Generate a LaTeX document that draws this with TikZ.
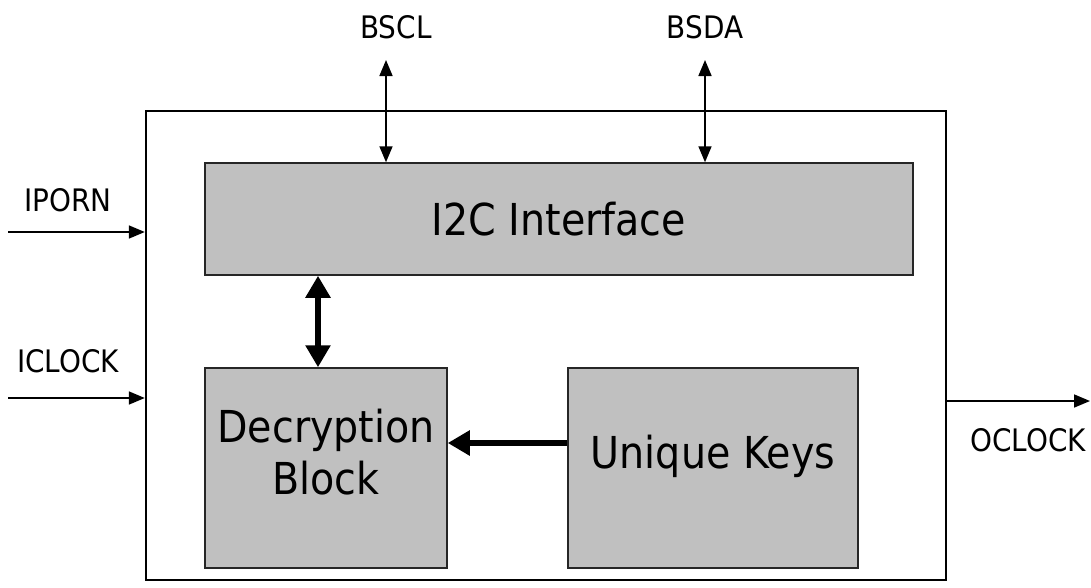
\documentclass[tikz,border=0pt]{standalone}
\usepackage{fontspec}
\setmainfont{DejaVu Sans Condensed}
\usetikzlibrary{arrows.meta}
\definecolor{boxgray}{HTML}{C0C0C0}
\begin{document}
\begin{tikzpicture}[x=1pt,y=-1pt,
  outerbox/.style={draw=black,line width=2.4pt,minimum width=800pt,minimum height=469pt,inner sep=0pt},
  graybox/.style={draw=black!85,fill=boxgray,line width=1.5pt,inner sep=0pt,align=center,font=\fontsize{44}{52}\selectfont},
  sig/.style={font=\fontsize{31}{36}\selectfont,inner sep=0pt},
  thin/.style={line width=1.7pt,-{Triangle[length=16pt,width=13pt]}},
  thinboth/.style={line width=1.7pt,{Triangle[length=16pt,width=13pt]}-{Triangle[length=16pt,width=13pt]}},
  thick/.style={line width=6pt,-{Triangle[length=22pt,width=24pt]}},
  thickboth/.style={line width=6pt,{Triangle[length=22pt,width=24pt]}-{Triangle[length=22pt,width=24pt]}}
]
\useasboundingbox (0,0) rectangle (1091,587);
\node[outerbox] (outer) at (546,345.5) {};
\node[graybox,minimum width=708pt,minimum height=112pt] (i2c) at (559,219) {I2C Interface};
\node[graybox,minimum width=242pt,minimum height=200pt] (dec) at (326,468) {};
\node[graybox,minimum width=290pt,minimum height=200pt] (keys) at (713,468) {};
\node[font=\fontsize{44}{52}\selectfont,align=center,inner sep=0pt] (dect) at ([yshift=16pt]dec.center) {Decryption\\Block};
\node[font=\fontsize{44}{52}\selectfont,inner sep=0pt] (keyst) at ([yshift=12pt]keys.center) {Unique Keys};

\node[sig] (bscl) at (396,27) {BSCL};
\node[sig] (bsda) at (705,27) {BSDA};
\node[sig] (iporn) at (68,200) {IPORN};
\node[sig] (iclock) at (68,361) {ICLOCK};
\node[sig] (oclock) at (1028,440) {OCLOCK};

\coordinate (bsclTop) at (386,60);
\coordinate (bsdaTop) at (705,60);
\coordinate (ipornIn) at (8,232);
\coordinate (iclockIn) at (8,398);
\coordinate (oclockOut) at (1090,401);
\coordinate (decTop) at (318,368);

\draw[thinboth] (bsclTop) -- (bsclTop |- i2c.north);
\draw[thinboth] (bsdaTop) -- (bsdaTop |- i2c.north);
\draw[thin] (ipornIn) -- (ipornIn -| outer.west);
\draw[thin] (iclockIn) -- (iclockIn -| outer.west);
\draw[thin] (oclockOut -| outer.east) -- (oclockOut);
\draw[thickboth] (decTop |- i2c.south) -- (decTop |- dec.north);
\draw[thick] (keys.west |- 0,443) -- (dec.east |- 0,443);
\end{tikzpicture}
\end{document}
